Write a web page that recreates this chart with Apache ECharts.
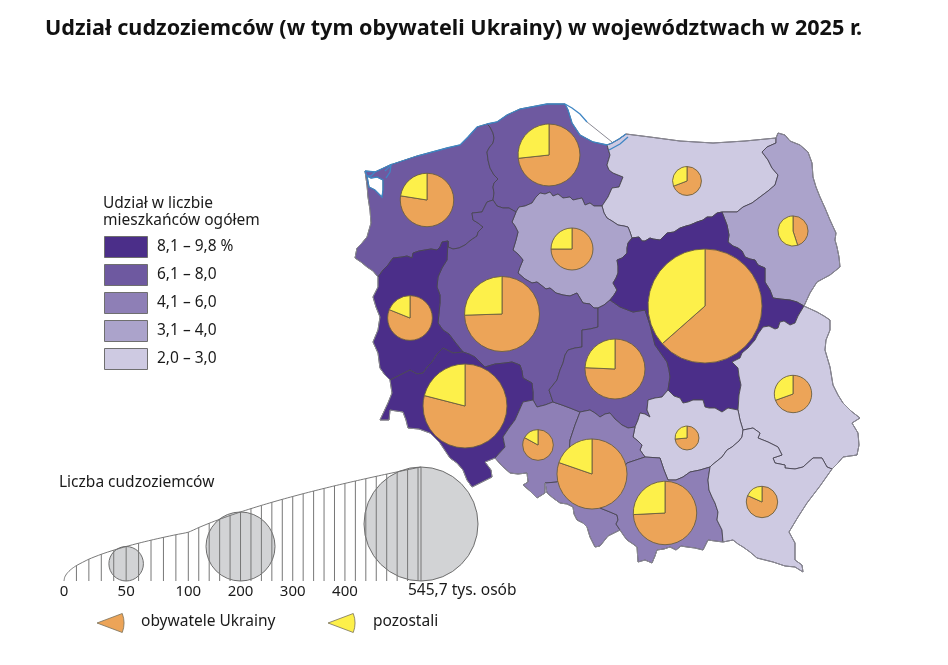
<!DOCTYPE html>
<html><head><meta charset="utf-8">
<style>html,body{margin:0;padding:0;background:#fff}#c{width:948px;height:665px}</style>
<script src="https://cdn.jsdelivr.net/npm/echarts@6/dist/echarts.min.js"></script>
</head><body><div id="c"></div>
<script>
// ---- data
const titleText = 'Udział cudzoziemców (w tym obywateli Ukrainy) w województwach w 2025 r.';
const regionNames = ['zachodniopomorskie','pomorskie','warmińsko-mazurskie','podlaskie','kujawsko-pomorskie','wielkopolskie','lubuskie','dolnośląskie','opolskie','łódzkie','mazowieckie','lubelskie','świętokrzyskie','śląskie','małopolskie','podkarpackie'];
const sharePct  = [6.8,6.7,2.6,3.4,3.6,7.0,8.6,9.0,5.0,6.4,9.8,2.6,2.2,5.4,5.2,2.4];
const foreigners = [120,161,35,38,74,236,84,296,39.5,151,545.7,58.7,24,206,169,41.4];
const ukrainePct = [77.5,73.3,69.2,45,75,74.5,81.1,79,83,75.7,63.5,69.5,73.6,80.3,74.2,81.7];
const pieCentres = [[427,200],[549,155],[687,181],[793,231],[572,249],[502,314],[410,318],[465,406],[538,445],[615,369],[705,306],[793,394],[687,438],[592,474],[665,513],[762,502]];
const classLabels = ['8,1 – 9,8 %','6,1 – 8,0','4,1 – 6,0','3,1 – 4,0','2,0 – 3,0'];
const classMin = [8.1,6.1,4.1,3.1,2.0];
const classMax = [9.8,8.0,6.0,4.0,3.0];
const classColors = ['#4b2e89','#6e59a0','#8e7fb6','#aba3cb','#cecae2'];
const scaleTicks = [0,10,20,30,40,50,60,70,80,90,100,120,140,160,180,200,220,240,260,280,300,320,340,360,380,400,420,440,460,480,500,520,540,545.7];
const scaleLabels = [0,50,100,200,300,400];
const scaleEndLabel = '545,7 tys. osób';
const scaleBubbles = [50,200,545.7];
const maxValue = 545.7, maxRadius = 57;

// ---- geography (traced boundaries, page-pixel based map units)
const A = {
 coastZP:[[365,171],[375,172],[390,165],[417,156],[447,148],[460,145],[468,137],[477,127],[487,124]],
 coastPom:[[487,124],[497,122],[507,115],[520,109],[547,104],[565,104],[568,110],[572,123],[580,135],[593,142],[607,145]],
 ZP_Pom:[[487,124],[490,127],[493,133],[494,138],[493,143],[489,148],[487,152],[488,160],[490,168],[494,175],[498,179],[494,183],[493,187],[494,193],[493,200]],
 westZP:[[365,171],[367,185],[368,197],[370,210],[371,223],[367,237],[362,243],[357,248],[355,258],[361,262],[367,267],[373,271],[378,277]],
 ZP_Wlkp:[[493,200],[487,202],[484,208],[482,212],[472,213],[473,220],[478,223],[483,227],[478,232],[477,236],[471,240],[465,245],[459,248],[453,249],[448,247],[448,241]],
 ZP_LS:[[448,241],[442,242],[440,247],[437,250],[431,249],[425,250],[419,251],[413,253],[412,258],[407,256],[402,257],[393,258],[390,262],[388,265],[383,270],[378,277]],
 Pom_Wlkp:[[493,200],[497,206],[503,208],[509,208],[516,212]],
 Pom_KP:[[516,212],[519,207],[525,206],[532,203],[536,197],[540,193],[545,194],[550,192],[553,196],[558,194],[563,198],[570,197],[573,200],[582,198],[585,205],[590,203],[594,206],[602,206]],
 Pom_WM:[[607,145],[610,155],[607,165],[609,170],[613,173],[618,175],[623,177],[619,187],[612,188],[608,197],[602,206]],
 KP_WM:[[602,206],[604,213],[607,218],[612,221],[618,225],[624,226],[628,227],[630,232],[632,238]],
 KP_Wlkp:[[516,212],[512,222],[515,226],[518,232],[516,240],[513,250],[518,254],[523,260],[520,267],[518,273],[525,279],[532,283],[537,282],[541,285],[546,289],[550,288],[556,293],[563,295],[570,296],[577,293],[580,298],[583,303],[590,304],[594,308],[598,308]],
 KP_Lodz:[[598,308],[604,305],[610,300]],
 KP_Maz:[[610,300],[614,295],[617,290],[613,283],[616,278],[618,273],[618,266],[617,260],[622,258],[627,253],[627,248],[628,243],[632,238]],
 WM_Maz:[[632,238],[639,237],[642,241],[645,241],[650,238],[653,239],[660,240],[664,236],[667,233],[674,232],[680,228],[686,226],[690,225],[697,222],[703,220],[707,217],[712,217],[717,213],[722,212]],
 WM_Podl:[[722,212],[737,212],[743,207],[752,203],[760,197],[768,191],[775,185],[778,175],[772,168],[768,160],[762,152],[767,147],[776,143],[776,138]],
 northWM:[[607,145],[612,143],[619,139],[626,134],[650,137],[680,141],[713,143],[745,141],[776,138]],
 PodlOuter:[[776,138],[778,133],[785,135],[790,141],[800,145],[808,152],[812,163],[813,177],[816,187],[820,197],[825,208],[830,220],[836,233],[835,240],[837,247],[839,257],[840,267],[830,275],[817,282],[810,293],[804,306]],
 Podl_Maz:[[804,306],[797,302],[790,300],[780,299],[773,298],[770,290],[765,282],[765,268],[758,265],[755,260],[750,259],[745,257],[742,251],[738,248],[733,246],[728,242],[729,235],[727,225],[722,212]],
 Maz_LB:[[804,306],[798,316],[795,323],[790,325],[784,321],[780,322],[778,328],[775,329],[769,326],[763,327],[758,334],[755,340],[748,348],[742,353],[740,358],[732,362],[738,368],[739,376],[741,385],[739,395],[738,410]],
 Maz_Sw:[[738,410],[728,408],[722,412],[715,408],[709,408],[705,407],[703,400],[693,400],[688,402],[683,403],[680,398],[674,396],[668,390]],
 Maz_Lodz:[[610,300],[620,307],[633,312],[645,310],[650,325],[655,345],[667,362],[669,370],[670,377],[668,390]],
 Lodz_Wlkp:[[553,402],[549,390],[553,385],[557,380],[560,370],[563,363],[565,355],[568,350],[575,348],[582,347],[582,338],[582,330],[590,329],[598,327],[598,318],[598,308]],
 Lodz_Op:[[553,402],[562,405],[570,408],[580,412]],
 Lodz_Sl:[[580,412],[590,410],[595,413],[600,417],[605,414],[610,413],[615,419],[622,425],[628,428],[635,427]],
 Lodz_Sw:[[668,390],[662,397],[655,398],[648,400],[647,410],[650,417],[645,414],[640,413],[638,420],[635,427]],
 Sw_Sl:[[635,427],[633,437],[638,441],[642,445],[640,450],[645,457]],
 Sw_Mal:[[645,457],[660,458],[664,470],[668,480],[676,480],[683,477],[690,472],[700,470],[710,467]],
 Sw_Pk:[[710,467],[712,465],[722,457],[727,450],[732,447],[739,441],[742,437],[743,430]],
 Sw_LB:[[743,430],[740,420],[738,410]],
 Sl_Mal:[[645,457],[627,463],[615,480],[600,508],[610,512],[617,515],[618,520],[616,524],[620,530]],
 Sl_Op:[[580,412],[575,425],[570,440],[568,470],[557,482],[545,483]],
 SlOuter:[[545,483],[547,493],[553,498],[560,503],[567,504],[573,507],[574,514],[577,520],[583,523],[587,527],[590,537],[595,547],[600,546],[604,541],[608,536],[614,533],[620,530]],
 MalOuter:[[620,530],[624,536],[627,540],[633,544],[637,547],[638,562],[645,560],[652,563],[655,556],[657,550],[664,549],[670,547],[676,550],[681,546],[687,547],[695,548],[703,550],[708,540],[715,541],[723,542]],
 Mal_Pk:[[710,467],[708,480],[709,490],[712,497],[715,503],[718,512],[717,520],[722,530],[723,542]],
 PkOuter:[[723,542],[733,540],[738,544],[743,547],[750,552],[757,558],[765,560],[773,562],[785,566],[795,567],[803,572],[802,565],[795,560],[795,543],[789,532],[798,517],[807,503],[820,486],[832,469]],
 Pk_LB:[[743,430],[753,428],[760,433],[758,438],[768,442],[778,447],[782,455],[773,458],[775,463],[785,465],[785,468],[795,469],[803,467],[813,458],[822,458],[827,467],[832,469]],
 LBOuter:[[804,306],[817,312],[824,316],[830,320],[830,330],[826,340],[825,350],[830,367],[833,385],[838,395],[843,403],[851,411],[860,418],[852,423],[858,433],[859,445],[857,455],[843,457],[838,463],[832,469]],
 Op_Wlkp:[[533,400],[537,407],[545,405],[553,402]],
 Dol_Wlkp:[[463,352],[469,354],[475,357],[480,362],[485,367],[495,364],[505,363],[512,362],[520,365],[522,371],[523,378],[532,383],[533,392],[533,400]],
 LS_Wlkp:[[448,241],[447,260],[442,268],[438,277],[437,287],[440,295],[440,303],[439,313],[438,323],[443,330],[449,334],[455,342],[463,352]],
 LS_Dol:[[390,380],[400,375],[410,370],[417,374],[423,373],[428,366],[432,362],[437,354],[443,348],[453,353],[463,352]],
 LSOuter:[[378,277],[378,287],[373,297],[376,307],[380,317],[378,330],[373,342],[378,353],[380,368],[385,375],[390,380]],
 Dol_Op:[[533,400],[523,402],[519,411],[515,420],[509,428],[503,437],[505,447],[495,458]],
 DolOuter:[[390,380],[392,393],[388,403],[380,420],[389,420],[390,410],[403,412],[406,420],[408,428],[419,429],[430,433],[440,443],[450,458],[457,463],[463,470],[467,480],[472,487],[482,482],[492,477],[491,470],[485,462],[495,458]],
 OpOuter:[[495,458],[502,466],[510,473],[518,474],[527,473],[528,482],[523,485],[530,491],[537,498],[545,493],[545,483]]
};
const lagoonRing = [[367,176],[369,187],[375,190],[382,197],[383,190],[383,180],[377,177],[371,178],[367,176]];
const blueCoast = [
 A.coastZP, A.coastPom.slice(0,6),
 [[565,104],[572,108],[580,114],[587,122]],
 A.coastPom.slice(5), lagoonRing,
 [[365,171],[367,176],[371,176],[375,172]],
 [[385,171],[391,165],[390,172],[386,178]],
 [[607,145],[612,143],[619,139],[626,134]],
 [[609,150],[620,144],[628,137]]
];
const greyLine = [[587,122],[612,142]];
const outerNames = ['northWM','PodlOuter','LBOuter','PkOuter','MalOuter','SlOuter','OpOuter','DolOuter','LSOuter','westZP'];
const rings = [
 ['coastZP','ZP_Pom','ZP_Wlkp','ZP_LS','-westZP'],
 ['coastPom','Pom_WM','-Pom_KP','-Pom_Wlkp','-ZP_Pom'],
 ['northWM','-WM_Podl','-WM_Maz','-KP_WM','-Pom_WM'],
 ['PodlOuter','Podl_Maz','WM_Podl'],
 ['Pom_KP','KP_WM','-KP_Maz','-KP_Lodz','-KP_Wlkp'],
 ['Pom_Wlkp','KP_Wlkp','-Lodz_Wlkp','-Op_Wlkp','-Dol_Wlkp','-LS_Wlkp','-ZP_Wlkp'],
 ['LS_Wlkp','-LS_Dol','-LSOuter','-ZP_LS'],
 ['LS_Dol','Dol_Wlkp','Dol_Op','-DolOuter'],
 ['Op_Wlkp','Lodz_Op','Sl_Op','-OpOuter','-Dol_Op'],
 ['KP_Lodz','Maz_Lodz','Lodz_Sw','-Lodz_Sl','-Lodz_Op','Lodz_Wlkp'],
 ['WM_Maz','-Podl_Maz','Maz_LB','Maz_Sw','-Maz_Lodz','KP_Maz'],
 ['LBOuter','-Pk_LB','Sw_LB','-Maz_LB'],
 ['-Maz_Sw','-Sw_LB','-Sw_Pk','-Sw_Mal','-Sw_Sl','-Lodz_Sw'],
 ['Lodz_Sl','Sw_Sl','Sl_Mal','-SlOuter','-Sl_Op'],
 ['-Sl_Mal','Sw_Mal','Mal_Pk','-MalOuter'],
 ['Pk_LB','-PkOuter','-Mal_Pk','Sw_Pk']
];
const toGeo = p => [p[0], -p[1]];
function ringCoords(parts){
  const out=[];
  parts.forEach(n=>{
    const rev=n[0]==='-'; const a=A[rev?n.slice(1):n];
    const pts=rev?a.slice().reverse():a;
    pts.forEach(p=>out.push(toGeo(p)));
  });
  return out;
}
const features = regionNames.map((name,i)=>({type:'Feature',properties:{name},geometry:{type:'Polygon',coordinates:[ringCoords(rings[i])]}}));
features.push({type:'Feature',properties:{name:'zalew'},geometry:{type:'Polygon',coordinates:[lagoonRing.map(toGeo)]}});
echarts.registerMap('pl',{type:'FeatureCollection',features});

// ---- scales
const radius = v => maxRadius*Math.sqrt(v/maxValue);
const scaleU = v => v<=100 ? v : 100+(v-100)*0.42;   // the legend axis is compressed above 100
const FONT='"Noto Sans"';
const TXT='#1a1a1a';
const FS=15.5;

const pies = regionNames.map((n,i)=>({
  type:'pie',coordinateSystem:'geo',geoIndex:0,center:toGeo(pieCentres[i]),
  radius:[0,radius(foreigners[i])],startAngle:90,clockwise:true,silent:true,z:5,
  label:{show:false},labelLine:{show:false},animation:false,
  itemStyle:{borderColor:'#6b5f3f',borderWidth:0.9},
  emphasis:{disabled:true},
  data:[
    {name:'obywatele Ukrainy',value:foreigners[i]*ukrainePct[i]/100,itemStyle:{color:'#eca458'}},
    {name:'pozostali',value:foreigners[i]*(100-ukrainePct[i])/100,itemStyle:{color:'#fdf04a'}}
  ]
}));

const legendGraphics=[];
classLabels.forEach((t,i)=>{
  legendGraphics.push({type:'rect',left:104,top:236+28*i,shape:{width:43,height:21},style:{fill:classColors[i],stroke:'#6f6f6f',lineWidth:1}});
  legendGraphics.push({type:'text',left:157,top:239+28*i,style:{text:t,font:FS+'px '+FONT,fill:TXT}});
});
[['Udział w liczbie',103,196],['mieszkańców ogółem',103,213],['Liczba cudzoziemców',59,475],['obywatele Ukrainy',141,614],['pozostali',373,614],[scaleEndLabel,408,583]].forEach(a=>{
  legendGraphics.push({type:'text',left:a[1],top:a[2],style:{text:a[0],font:FS+'px '+FONT,fill:TXT}});
});
const wedge=(cx,color)=>({type:'sector',shape:{cx,cy:623,r:27,r0:0,startAngle:-0.36,endAngle:0.36},style:{fill:color,stroke:'#77705a',lineWidth:0.8}});
legendGraphics.push(wedge(97,'#eca458'),wedge(328,'#fdf04a'));

const envelopeValues=[0,0.5,1,2,3,5,7,10].concat(scaleTicks.slice(2));

const option={
 animation:false,
 backgroundColor:'#fff',
 title:{text:titleText,left:40,top:13,textStyle:{fontFamily:FONT,fontWeight:'bold',fontSize:21.6,color:'#111'}},
 graphic:legendGraphics,
 visualMap:{show:false,type:'piecewise',seriesIndex:0,dimension:0,
   pieces:classMin.map((m,i)=>({min:m,max:classMax[i],color:classColors[i]})).concat([{min:-1,max:1,color:'#ffffff'}])},
 geo:{map:'pl',roam:false,silent:true,aspectScale:1,left:345,top:100,width:530,height:480,
   boundingCoords:[[345,-100],[875,-580]],
   itemStyle:{areaColor:'#ffffff',borderColor:'#4a4654',borderWidth:0.9},label:{show:false},emphasis:{disabled:true}},
 grid:{left:64,width:357,top:461,height:120,containLabel:false},
 xAxis:{type:'value',min:0,max:scaleU(maxValue),
   axisLine:{show:false},axisTick:{show:false},splitLine:{show:false},
   axisLabel:{customValues:scaleLabels.map(scaleU),margin:3,hideOverlap:false,fontFamily:FONT,fontSize:15,color:TXT,
     formatter:u=>{const i=scaleLabels.findIndex(v=>Math.abs(scaleU(v)-u)<1e-6);return i<0?'':String(scaleLabels[i]);}}},
 yAxis:{type:'value',min:0,max:120,show:false},
 series:[
  {type:'map',geoIndex:0,silent:true,data:regionNames.map((name,i)=>({name,value:sharePct[i]})).concat([{name:'zalew',value:0}])},
  {type:'lines',coordinateSystem:'geo',polyline:true,silent:true,z:3,lineStyle:{color:'#8b8a94',width:1,opacity:1},
   data:outerNames.map(n=>({coords:A[n].map(toGeo)})).concat([{coords:greyLine.map(toGeo)}])},
  {type:'lines',coordinateSystem:'geo',polyline:true,silent:true,z:4,lineStyle:{color:'#3f86c4',width:1.3,opacity:1},
   data:blueCoast.map(c=>({coords:c.map(toGeo)}))},
  ...pies,
  {type:'scatter',xAxisIndex:0,yAxisIndex:0,silent:true,clip:false,z:2,
   data:scaleBubbles.map(v=>[scaleU(v),radius(v),v]),
   symbolSize:d=>2*radius(d[2]),
   itemStyle:{color:'#d2d3d5',borderColor:'#6e6e6e',borderWidth:1,opacity:1}},
  {type:'bar',silent:true,z:3,barWidth:1,clip:false,barGap:'-100%',
   data:scaleTicks.map(v=>[scaleU(v),2*radius(v)]),
   itemStyle:{color:'#777777'}},
  {type:'line',silent:true,z:4,smooth:0.2,symbol:'none',clip:false,
   data:envelopeValues.map(v=>[scaleU(v),2*radius(v)]),
   lineStyle:{color:'#6a6a6a',width:0.9}}
 ]
};
echarts.init(document.getElementById('c'),null,{renderer:'canvas'}).setOption(option);
</script></body></html>
